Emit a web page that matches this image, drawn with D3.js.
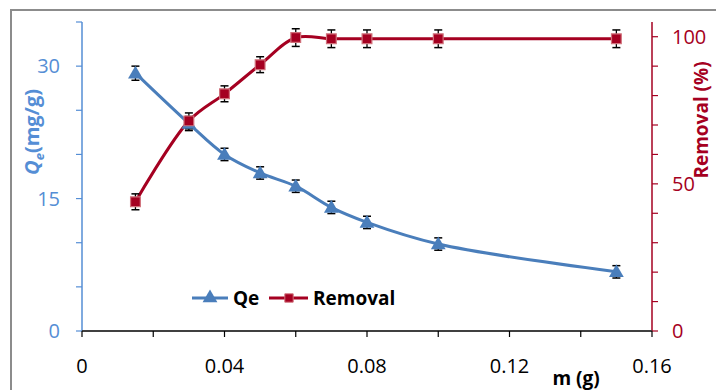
<!DOCTYPE html>
<html>
<head>
<meta charset="utf-8">
<script src="https://cdn.jsdelivr.net/npm/d3@7"></script>
<style>
  body { margin: 0; background: #fff; }
  svg { display: block; font-family: "Open Sans", "Noto Sans", sans-serif; }
</style>
</head>
<body>
<svg id="chart" width="716" height="390"></svg>
<script>
// data
var mass = [0.015, 0.03, 0.04, 0.05, 0.06, 0.07, 0.08, 0.1, 0.15];
var qe = [29.2, 23.5, 20.0, 17.9, 16.4, 14.0, 12.3, 9.85, 6.7];
var qeErr = [0.8, 0.8, 0.7, 0.7, 0.7, 0.7, 0.7, 0.7, 0.7];
var removal = [43.9, 71.4, 80.6, 90.5, 99.7, 99.3, 99.3, 99.3, 99.3];
var removalErr = [2.7, 2.7, 2.7, 2.7, 3, 3, 3, 3, 3];
var xTicks = [0, 0.04, 0.08, 0.12, 0.16];
var qeTicks = [0, 15, 30];
var remTicks = [0, 50, 100];

var blue = "#4A7EBB", lblue = "#558ED5", red = "#A50021";

var svg = d3.select("#chart");

// outer frame
svg.append("rect")
    .attr("x", 11).attr("y", 10)
    .attr("width", 720).attr("height", 400)
    .attr("fill", "none")
    .attr("stroke", "#8c8c8c")
    .attr("stroke-width", 2);

var x = d3.scaleLinear().domain([0, 0.16]).range([82, 652]);
var yL = d3.scaleLinear().domain([0, 35]).range([331, 22]);
var yR = d3.scaleLinear().domain([0, 105]).range([331, 22]);

// left axis
var gl = svg.append("g").attr("transform", "translate(82,0)");
gl.append("line").attr("y1", yL(0)).attr("y2", yL(35)).attr("stroke", lblue).attr("stroke-width", 1.5);
gl.selectAll("line.t").data(d3.range(0, 36, 5)).enter().append("line")
    .attr("class", "t")
    .attr("x1", -6).attr("x2", 0)
    .attr("y1", function(d) { return yL(d); }).attr("y2", function(d) { return yL(d); })
    .attr("stroke", lblue).attr("stroke-width", 1.2);
gl.selectAll("text").data(qeTicks).enter().append("text")
    .attr("x", -22).attr("y", function(d) { return yL(d) + 7; })
    .attr("text-anchor", "end")
    .attr("font-size", 20).attr("fill", lblue)
    .text(function(d) { return d; });

// right axis
var gr = svg.append("g").attr("transform", "translate(652,0)");
gr.append("line").attr("y1", yR(0)).attr("y2", yR(105)).attr("stroke", red).attr("stroke-width", 1.5);
gr.selectAll("line.t").data(d3.range(0, 101, 10)).enter().append("line")
    .attr("class", "t")
    .attr("x1", 0).attr("x2", 6)
    .attr("y1", function(d) { return yR(d); }).attr("y2", function(d) { return yR(d); })
    .attr("stroke", red).attr("stroke-width", 1.2);
gr.selectAll("text").data(remTicks).enter().append("text")
    .attr("x", 20).attr("y", function(d) { return yR(d) + 7; })
    .attr("text-anchor", "start")
    .attr("font-size", 20).attr("fill", red)
    .text(function(d) { return d; });

// x axis
var gx = svg.append("g").attr("transform", "translate(0,331)");
gx.append("line").attr("x1", x(0)).attr("x2", x(0.16)).attr("stroke", "#404040").attr("stroke-width", 2);
gx.selectAll("line.t").data(d3.range(0, 9)).enter().append("line")
    .attr("class", "t")
    .attr("x1", function(d) { return x(d * 0.02); }).attr("x2", function(d) { return x(d * 0.02); })
    .attr("y1", 0).attr("y2", 6)
    .attr("stroke", "#000").attr("stroke-width", 1.2);
gx.selectAll("text").data(xTicks).enter().append("text")
    .attr("x", function(d) { return x(d); }).attr("y", 42)
    .attr("text-anchor", "middle")
    .attr("font-size", 20).attr("fill", "#000")
    .text(function(d) { return d === 0 ? "0" : d.toFixed(2); });

// axis titles
var lt = svg.append("text")
    .attr("transform", "translate(39,132) rotate(-90)")
    .attr("text-anchor", "middle")
    .attr("font-size", 20).attr("font-weight", "bold").attr("fill", lblue);
lt.append("tspan").attr("font-style", "italic").text("Q");
lt.append("tspan").attr("font-size", 13).attr("font-style", "italic").attr("dy", 5).text("e");
lt.append("tspan").attr("dy", -5).text("(mg/g)");

svg.append("text")
    .attr("transform", "translate(708,120) rotate(-90)")
    .attr("text-anchor", "middle")
    .attr("font-size", 19).attr("font-weight", "bold").attr("fill", red)
    .text("Removal (%)");

svg.append("text")
    .attr("x", 576).attr("y", 385)
    .attr("text-anchor", "middle")
    .attr("font-size", 19).attr("font-weight", "bold").attr("fill", "#000")
    .text("m (g)");

// series
var qeData = mass.map(function(m, i) { return {x: m, y: qe[i], e: qeErr[i]}; });
var remData = mass.map(function(m, i) { return {x: m, y: removal[i], e: removalErr[i]}; });

function drawSeries(data, ys, color) {
    var line = d3.line().curve(d3.curveCatmullRom.alpha(0.5))
        .x(function(d) { return x(d.x); }).y(function(d) { return ys(d.y); });
    svg.append("path").datum(data)
        .attr("d", line)
        .attr("fill", "none").attr("stroke", color).attr("stroke-width", 3);
    var eb = svg.append("g").selectAll("g").data(data).enter().append("g");
    eb.append("line")
        .attr("x1", function(d) { return x(d.x); }).attr("x2", function(d) { return x(d.x); })
        .attr("y1", function(d) { return ys(d.y - d.e); }).attr("y2", function(d) { return ys(d.y + d.e); })
        .attr("stroke", "#000").attr("stroke-width", 1.3);
    [-1, 1].forEach(function(s) {
        eb.append("line")
            .attr("x1", function(d) { return x(d.x) - 4; }).attr("x2", function(d) { return x(d.x) + 4; })
            .attr("y1", function(d) { return ys(d.y + s * d.e); }).attr("y2", function(d) { return ys(d.y + s * d.e); })
            .attr("stroke", "#000").attr("stroke-width", 1.5);
    });
}

drawSeries(qeData, yL, blue);
drawSeries(remData, yR, red);

var tri = d3.symbol().type(d3.symbolTriangle).size(95);
var sq = d3.symbol().type(d3.symbolSquare).size(95);

svg.append("g").selectAll("path").data(qeData).enter().append("path")
    .attr("d", tri)
    .attr("transform", function(d) { return "translate(" + x(d.x) + "," + (yL(d.y) + 1) + ")"; })
    .attr("fill", blue);

svg.append("g").selectAll("path").data(remData).enter().append("path")
    .attr("d", sq)
    .attr("transform", function(d) { return "translate(" + x(d.x) + "," + yR(d.y) + ")"; })
    .attr("fill", red).attr("stroke", "#D0707A").attr("stroke-width", 1.2);

// legend
var lg = svg.append("g").attr("transform", "translate(0,298)");
lg.append("line").attr("x1", 192).attr("x2", 228).attr("stroke", blue).attr("stroke-width", 3);
lg.append("path").attr("d", tri).attr("transform", "translate(210,0)").attr("fill", blue);
lg.append("text").attr("x", 233).attr("y", 7).attr("font-size", 19).attr("font-weight", "bold").text("Qe");
lg.append("line").attr("x1", 269).attr("x2", 308).attr("stroke", red).attr("stroke-width", 3);
lg.append("path").attr("d", d3.symbol().type(d3.symbolSquare).size(70))
    .attr("transform", "translate(289,0)")
    .attr("fill", red).attr("stroke", "#D0707A").attr("stroke-width", 1);
lg.append("text").attr("x", 313).attr("y", 7).attr("font-size", 19).attr("font-weight", "bold").text("Removal");
</script>
</body>
</html>
